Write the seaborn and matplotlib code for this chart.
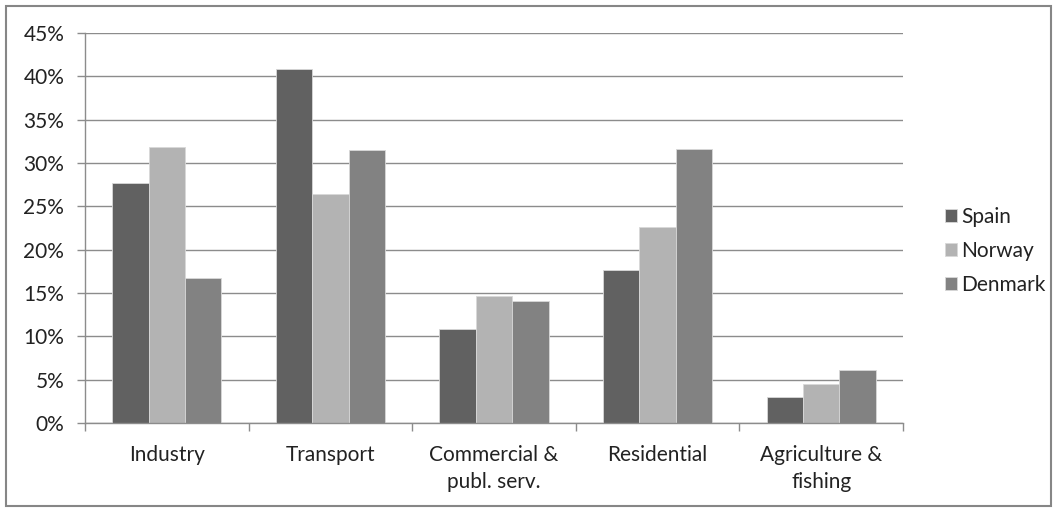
import matplotlib
matplotlib.use("Agg")
import matplotlib.pyplot as plt
import seaborn as sns
import pandas as pd
import numpy as np
from matplotlib.ticker import FuncFormatter, FixedLocator
from matplotlib.patches import Rectangle

sectors = ["Industry", "Transport", "Commercial &\npubl. serv.", "Residential", "Agriculture &\nfishing"]
countries = ["Spain", "Norway", "Denmark"]
spain = [27.7, 40.8, 10.8, 17.6, 3.0]
norway = [31.8, 26.4, 14.6, 22.6, 4.5]
denmark = [16.7, 31.5, 14.1, 31.6, 6.1]
yticks = [0, 5, 10, 15, 20, 25, 30, 35, 40, 45]

df = pd.DataFrame({
    "sector": sectors * 3,
    "country": [c for c in countries for _ in sectors],
    "value": spain + norway + denmark,
})

sns.set_style("white")
plt.rcParams["font.family"] = ["Lato", "DejaVu Sans"]

fig = plt.figure(figsize=(10.54, 5.09), dpi=100)
ax = fig.add_axes([85 / 1054, 1 - 423 / 509, 818 / 1054, 390 / 509])

palette = {"Spain": "#616161", "Norway": "#b3b3b3", "Denmark": "#828282"}
sns.barplot(data=df, x="sector", y="value", hue="country", order=sectors,
            hue_order=countries, palette=palette, width=0.667, gap=0,
            edgecolor="#d8d8d8", linewidth=0.6, ax=ax, legend=True, saturation=1)

ax.set_ylim(0, 45)
ax.set_xlim(-0.5, 4.5)
ax.yaxis.set_major_locator(FixedLocator(yticks))
ax.yaxis.set_major_formatter(FuncFormatter(lambda v, p: f"{v:.0f}%"))
ax.grid(axis="y", color="#8c8c8c", linewidth=1.0)
ax.set_axisbelow(True)
ax.set_xlabel("")
ax.set_ylabel("")

for s in ["top", "right"]:
    ax.spines[s].set_visible(False)
for s in ["left", "bottom"]:
    ax.spines[s].set_color("#8c8c8c")
    ax.spines[s].set_linewidth(1.0)

FS = 15
ax.xaxis.set_minor_locator(FixedLocator(np.arange(-0.5, 5.0, 1.0)))
ax.tick_params(axis="x", which="major", length=0, pad=16, labelsize=FS)
ax.tick_params(axis="x", which="minor", length=6, width=1, color="#8c8c8c", direction="out", bottom=True)
ax.tick_params(axis="y", which="major", length=6, width=1, color="#8c8c8c", direction="out", left=True,
               labelsize=FS, pad=9)
for lbl in ax.get_xticklabels():
    lbl.set_horizontalalignment("center")
    lbl.set_linespacing(1.45)
    lbl.set_color("#222222")
for lbl in ax.get_yticklabels():
    lbl.set_color("#222222")

handles, labels = ax.get_legend_handles_labels()
leg = ax.legend(handles, labels, loc="center left", bbox_to_anchor=(926 / 1054, 1 - 251 / 509),
                bbox_transform=fig.transFigure, frameon=False, handlelength=0.6, handleheight=0.6,
                handletextpad=0.2, labelspacing=0.68, fontsize=FS)
for t in leg.get_texts():
    t.set_color("#222222")

fig.patches.append(Rectangle((6 / 1054, 3 / 509), 1045 / 1054, 500 / 509, transform=fig.transFigure,
                             fill=False, edgecolor="#868686", linewidth=1.5))

fig.savefig("out.png", dpi=100, facecolor="white")
